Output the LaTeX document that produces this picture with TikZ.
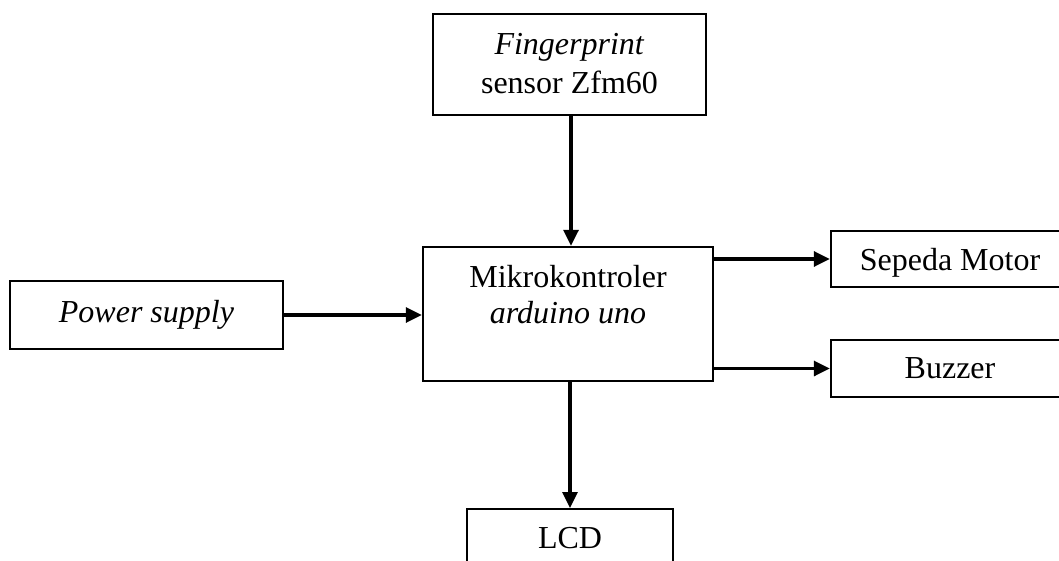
\documentclass[tikz,border=0pt]{standalone}
\usepackage{fontspec}
\setmainfont{Liberation Serif}
\usetikzlibrary{arrows.meta}
\begin{document}
\begin{tikzpicture}[x=1pt,y=-1pt,
  box/.style={draw, line width=2.4pt, inner sep=0pt, align=center, font=\fontsize{32}{36}\selectfont},
  txt/.style={inner sep=0pt, anchor=base, font=\fontsize{32}{36}\selectfont},
  conn/.style={line width=3.2pt, -{Triangle[length=16pt,width=15pt]}}]
\useasboundingbox (0,0) rectangle (1059,561);
\clip (0,0) rectangle (1059,561);
% boxes
\node[box, minimum width=273pt, minimum height=101pt] (finger) at (569.5,64.5) {};
\node[txt] (fingerA) at (569.5,55) {\textit{Fingerprint}};
\node[txt] (fingerB) at (569.5,94) {sensor Zfm60};
\node[box, minimum width=290pt, minimum height=134pt] (mikro) at (568,314) {};
\node[txt] (mikroA) at (568,287) {Mikrokontroler};
\node[txt] (mikroB) at (568,323) {\textit{arduino uno}};
\node[box, minimum width=273pt, minimum height=68pt] (power) at (146.5,315) {\textit{Power supply}};
\node[box, minimum width=238pt, minimum height=56pt, text depth=0pt] (sepeda) at (950,259) {Sepeda Motor};
\node[box, minimum width=238pt, minimum height=57pt] (buzzer) at (950,368.5) {Buzzer};
\node[box, minimum width=206pt, minimum height=58pt, anchor=north] (lcd) at (570,508) {LCD};
% connectors
\draw[conn] (finger.south -| 571,0) -- (mikro.north -| 571,0);
\draw[conn] (power.east) -- (power.east -| mikro.west);
\draw[conn] (sepeda.west -| mikro.east) -- (sepeda.west);
\draw[conn] (buzzer.west -| mikro.east) -- (buzzer.west);
\draw[conn] (mikro.south -| lcd.north) -- (lcd.north);
\end{tikzpicture}
\end{document}
